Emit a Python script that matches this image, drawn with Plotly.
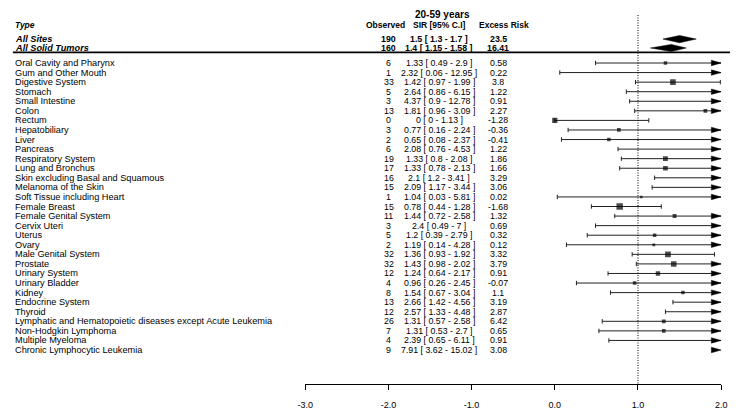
import plotly.graph_objects as go

# ---------------- data ----------------
title = "20-59 years"
headers = ["Type", "Observed", "SIR [95% C.I]", "Excess Risk"]

summary_labels = ["All Sites", "All Solid Tumors"]
summary_observed = [190, 160]
summary_sir = [1.5, 1.4]
summary_lower = [1.3, 1.15]
summary_upper = [1.7, 1.58]
summary_excess = [23.5, 16.41]

types = [
    "Oral Cavity and Pharynx", "Gum and Other Mouth", "Digestive System", "Stomach",
    "Small Intestine", "Colon", "Rectum", "Hepatobiliary", "Liver", "Pancreas",
    "Respiratory System", "Lung and Bronchus", "Skin excluding Basal and Squamous",
    "Melanoma of the Skin", "Soft Tissue including Heart", "Female Breast",
    "Female Genital System", "Cervix Uteri", "Uterus", "Ovary", "Male Genital System",
    "Prostate", "Urinary System", "Urinary Bladder", "Kidney", "Endocrine System",
    "Thyroid", "Lymphatic and Hematopoietic diseases except Acute Leukemia",
    "Non-Hodgkin Lymphoma", "Multiple Myeloma", "Chronic Lymphocytic Leukemia",
]
observed = [6, 1, 33, 5, 3, 13, 0, 3, 2, 6, 19, 17, 16, 15, 1, 15, 11, 3, 5, 2,
            32, 32, 12, 4, 8, 13, 12, 26, 7, 4, 9]
sir = [1.33, 2.32, 1.42, 2.64, 4.37, 1.81, 0, 0.77, 0.65, 2.08, 1.33, 1.33, 2.1, 2.09,
       1.04, 0.78, 1.44, 2.4, 1.2, 1.19, 1.36, 1.43, 1.24, 0.96, 1.54, 2.66, 2.57,
       1.31, 1.31, 2.39, 7.91]
lower = [0.49, 0.06, 0.97, 0.86, 0.9, 0.96, 0, 0.16, 0.08, 0.76, 0.8, 0.78, 1.2, 1.17,
         0.03, 0.44, 0.72, 0.49, 0.39, 0.14, 0.93, 0.98, 0.64, 0.26, 0.67, 1.42, 1.33,
         0.57, 0.53, 0.65, 3.62]
upper = [2.9, 12.95, 1.99, 6.15, 12.78, 3.09, 1.13, 2.24, 2.37, 4.53, 2.08, 2.13, 3.41,
         3.44, 5.81, 1.28, 2.58, 7, 2.79, 4.28, 1.92, 2.02, 2.17, 2.45, 3.04, 4.56,
         4.48, 2.58, 2.7, 6.11, 15.02]
excess = [0.58, 0.22, 3.8, 1.22, 0.91, 2.27, -1.28, -0.36, -0.41, 1.22, 1.86, 1.66,
          3.29, 3.06, 0.02, -1.68, 1.32, 0.69, 0.32, 0.12, 3.32, 3.79, 0.91, -0.07,
          1.1, 3.19, 2.87, 6.42, 0.65, 0.91, 3.08]

tick_vals = [-3, -2, -1, 0, 1, 2]
tick_text = ["-3.0", "-2.0", "-1.0", "0.0", "1.0", "2.0"]
ref_line = 1

# ---------------- layout geometry (pixels) ----------------
W, H = 736, 414
AX_L, AX_R = 303, 727          # pixel span of -3 .. 2
AXIS_Y = 384                   # pixel y of axis line
ROW0 = 63                      # pixel y of first row
STEP = 9.567                   # pixel row spacing
XMIN, XMAX = tick_vals[0], tick_vals[-1]
UNIT = (AX_R - AX_L) / (XMAX - XMIN)

FONT = "Liberation Sans, Arial, sans-serif"
NARROW = "Liberation Sans Narrow, Arial Narrow, Liberation Sans, Arial, sans-serif"
LBL_X = 5
OBS_X, SIR_X, EXC_X = 388, 439.5, 500
OBS_HX, SIR_HX, EXC_HX = 385, 439.5, 506
LBL_SIZE, NUM_SIZE, HDR_SIZE = 9.2, 8.8, 8.5

y_bottom = (AXIS_Y - ROW0) / STEP
y_top = -ROW0 / STEP
rows = list(range(len(types)))
sum_rows = [-2.5, -1.57]
header_row = -3.97
title_row = -5.12
line_row = -1.12

def fmt(v):
    return f"{v:g}"

def ci_text(s, l, u):
    return f"{fmt(s)} [ {fmt(l)} - {fmt(u)} ]"

fig = go.Figure()

# ---------- CI lines, end ticks, arrows ----------
tick_h = 2.2 / STEP
arr_len = 10 / UNIT
arr_h = 2.7 / STEP
lx, ly, tx, ty, ax_, ay_ = [], [], [], [], [], []
for r, l, u in zip(rows, lower, upper):
    lo = max(l, XMIN)
    hi = min(u, XMAX)
    if lo < hi:
        lx += [lo, hi, None]
        ly += [r, r, None]
    if XMIN <= l <= XMAX:
        tx += [l, l, None]
        ty += [r - tick_h, r + tick_h, None]
    if u <= XMAX:
        tx += [u, u, None]
        ty += [r - tick_h, r + tick_h, None]
    else:
        ax_ += [XMAX - arr_len, XMAX, XMAX - arr_len, XMAX - arr_len, None]
        ay_ += [r - arr_h, r, r + arr_h, r - arr_h, None]

fig.add_trace(go.Scatter(x=lx, y=ly, mode="lines",
                         line=dict(color="#222222", width=1), hoverinfo="skip"))
fig.add_trace(go.Scatter(x=tx, y=ty, mode="lines",
                         line=dict(color="#222222", width=1), hoverinfo="skip"))
fig.add_trace(go.Scatter(x=ax_, y=ay_, mode="lines", fill="toself",
                         fillcolor="black", line=dict(color="black", width=0.5),
                         hoverinfo="skip"))

# ---------- squares (size by precision, metafor style) ----------
wi = [3.92 / (u - l) for l, u in zip(lower, upper)]
wmin, wmax = min(wi), max(wi)
psize = [0.5 + (w - wmin) / (wmax - wmin) for w in wi]
BASE = 4.3
sx, sy, ss = [], [], []
for r, s, p in zip(rows, sir, psize):
    if XMIN <= s <= XMAX:
        sx.append(s)
        sy.append(r)
        ss.append(BASE * p)
fig.add_trace(go.Scatter(x=sx, y=sy, mode="markers",
                         marker=dict(symbol="square", size=ss, color="black",
                                     line=dict(width=0)),
                         hoverinfo="skip"))

# ---------- summary diamonds ----------
dh = 3.6 / STEP
dx, dy = [], []
for r, s, l, u in zip(sum_rows, summary_sir, summary_lower, summary_upper):
    dx += [l, s, u, s, l, None]
    dy += [r, r - dh, r, r + dh, r, None]
fig.add_trace(go.Scatter(x=dx, y=dy, mode="lines", fill="toself", fillcolor="black",
                         line=dict(color="black", width=0.5), hoverinfo="skip"))

# ---------- annotations (text columns) ----------
ann = []
def add(text, xpx, row, size=9, anchor="left", bold=False, italic=False, family=FONT):
    if italic:
        text = f"<i>{text}</i>"
    if bold:
        text = f"<b>{text}</b>"
    ann.append(dict(text=text, x=xpx / W, xref="paper", y=row, yref="y",
                    xanchor=anchor, yanchor="middle", showarrow=False,
                    font=dict(family=family, size=size, color="black")))

add(title, 443, title_row, size=10, anchor="center", bold=True)
add(headers[0], LBL_X, header_row, size=HDR_SIZE, bold=True, italic=True)
add(headers[1], OBS_HX, header_row, size=HDR_SIZE, anchor="center", bold=True)
add(headers[2], SIR_HX, header_row, size=HDR_SIZE, anchor="center", bold=True)
add(headers[3], EXC_HX, header_row, size=HDR_SIZE, anchor="center", bold=True)

for r, lab, o, s, l, u, e in zip(sum_rows, summary_labels, summary_observed,
                                 summary_sir, summary_lower, summary_upper,
                                 summary_excess):
    add(lab, LBL_X, r, size=LBL_SIZE, bold=True, italic=True)
    add(str(o), OBS_X, r, size=NUM_SIZE, anchor="center", bold=True, family=NARROW)
    add(ci_text(s, l, u), SIR_X, r, size=NUM_SIZE, anchor="center", bold=True, family=NARROW)
    add(fmt(e), EXC_X, r, size=NUM_SIZE, anchor="center", bold=True, family=NARROW)

for r, lab, o, s, l, u, e in zip(rows, types, observed, sir, lower, upper, excess):
    add(lab, LBL_X, r, size=LBL_SIZE)
    add(str(o), OBS_X, r, size=NUM_SIZE, anchor="center", family=NARROW)
    add(ci_text(s, l, u), SIR_X, r, size=NUM_SIZE, anchor="center", family=NARROW)
    add(fmt(e), EXC_X, r, size=NUM_SIZE, anchor="center", family=NARROW)

# ---------- shapes ----------
line_px = ROW0 + line_row * STEP
shapes = [
    dict(type="line", xref="paper", yref="paper", x0=LBL_X / W, x1=1,
         y0=1 - line_px / H, y1=1 - line_px / H, line=dict(color="black", width=1.8)),
    dict(type="line", xref="x", yref="y", x0=ref_line, x1=ref_line,
         y0=(15 - ROW0) / STEP, y1=y_bottom,
         line=dict(color="black", width=1, dash="1px,1.5px")),
]

fig.update_layout(
    width=W, height=H, margin=dict(l=0, r=0, t=0, b=0),
    paper_bgcolor="white", plot_bgcolor="white", showlegend=False,
    annotations=ann, shapes=shapes,
    xaxis=dict(domain=[AX_L / W, AX_R / W], range=[XMIN, XMAX],
               tickvals=tick_vals, ticktext=tick_text, showline=True,
               linecolor="black", linewidth=1, ticks="outside", ticklen=5,
               tickcolor="black", tickwidth=1, showgrid=False, zeroline=False,
               tickfont=dict(family=FONT, size=9, color="black"),
               ticklabelstandoff=7, fixedrange=True),
    yaxis=dict(domain=[(H - AXIS_Y) / H, 1], range=[y_bottom, y_top],
               visible=False, showgrid=False, zeroline=False, fixedrange=True),
)

fig.write_html(
    "out.html",
    config={"displayModeBar": False},
    post_script="document.body.style.margin='0';document.body.style.overflow='hidden';",
)
